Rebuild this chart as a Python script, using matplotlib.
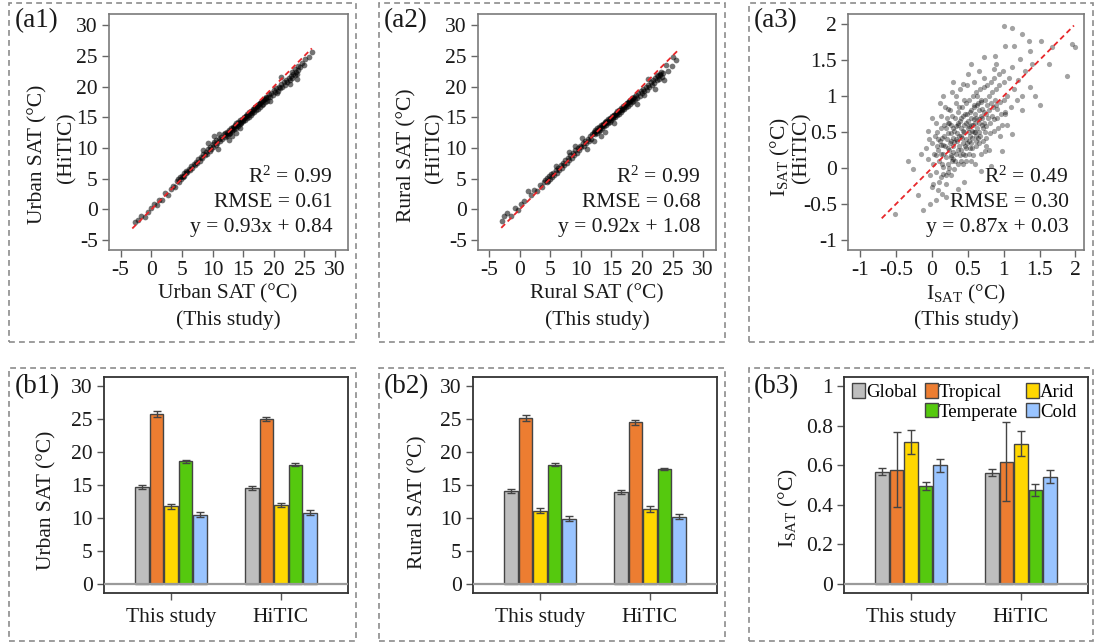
import numpy as np
import matplotlib
matplotlib.use("Agg")
import matplotlib.pyplot as plt
from matplotlib.patches import Rectangle, Patch

plt.rcParams['font.family'] = ['Liberation Serif', 'DejaVu Serif']
plt.rcParams['mathtext.fontset'] = 'custom'
plt.rcParams['mathtext.rm'] = 'Liberation Serif'
plt.rcParams['mathtext.it'] = 'Liberation Serif:italic'
plt.rcParams['mathtext.bf'] = 'Liberation Serif:bold'
plt.rcParams['axes.unicode_minus'] = False

# ---------------- data ----------------
# (a1) urban SAT: this study vs HiTIC
urban_pairs = [
    (-2.6, -2.0), (-2.1, -1.7), (-1.6, -1.0), (-1.1, -1.3), (-0.6, -0.4), (0.0, 0.2), (0.4, 0.9),
    (0.9, 0.7), (1.3, 1.6), (1.8, 1.5), (2.3, 2.6), (2.7, 2.4), (3.2, 3.3), (3.6, 3.8), (3.9, 3.6),
    (4.2, 4.6), (4.4, 4.9), (4.5, 4.4), (4.7, 5.3), (4.8, 5.0), (5.0, 5.5), (5.1, 5.2), (5.3, 5.9),
    (5.4, 5.5), (5.6, 6.0), (5.7, 6.3), (5.9, 6.1), (6.1, 6.6), (6.3, 6.4), (6.5, 7.0), (6.7, 6.8),
    (6.9, 7.4), (7.1, 7.2), (7.3, 7.8), (7.5, 7.5), (7.7, 8.2), (7.9, 7.9), (8.1, 8.6),
    (8.3, 8.4), (8.5, 9.0), (8.7, 8.8), (8.9, 9.4), (9.1, 9.1), (9.3, 9.8), (9.5, 9.5), (9.6, 10.2),
    (9.8, 9.9), (10.0, 10.6), (10.1, 10.2), (10.3, 10.9), (10.5, 10.5), (10.6, 11.3), (10.8, 10.8),
    (11.0, 11.5), (11.2, 11.1), (11.4, 11.8), (11.6, 11.4), (11.8, 12.2), (12.0, 11.8),
    (9.2, 10.8), (10.3, 11.9), (11.0, 12.3), (12.6, 11.3), (13.2, 12.0), (13.9, 12.5), (14.4, 13.2),
    (8.4, 9.6), (10.9, 9.9),
    (12.1, 12.4), (12.3, 12.0), (12.4, 12.6), (12.6, 12.3), (12.7, 12.9), (12.9, 12.5), (13.0, 13.2),
    (13.2, 12.8), (13.3, 13.4), (13.5, 13.1), (13.6, 13.7), (13.8, 13.3), (13.9, 14.0), (14.1, 13.6),
    (14.2, 14.2), (14.4, 13.9), (14.5, 14.5), (14.7, 14.1), (14.8, 14.7), (15.0, 14.4), (15.1, 15.0),
    (15.3, 14.6), (15.4, 15.2), (15.6, 14.9), (15.7, 15.5), (15.9, 15.1), (16.0, 15.8), (16.2, 15.4),
    (16.3, 16.0), (16.5, 15.7), (16.6, 16.3), (16.8, 15.9), (16.9, 16.6), (17.1, 16.2), (17.2, 16.8),
    (17.4, 16.4), (17.5, 17.1), (17.7, 16.7), (17.8, 17.3), (18.0, 17.0), (18.1, 17.6), (18.3, 17.2),
    (18.4, 17.9), (18.6, 17.5), (18.7, 18.1), (18.9, 17.7), (19.0, 18.3),
    (12.2, 12.1), (12.5, 12.4), (12.8, 12.7), (13.1, 13.0), (13.4, 13.2), (13.7, 13.5), (14.0, 13.8),
    (14.3, 14.1), (14.6, 14.3), (14.9, 14.6), (15.2, 14.9), (15.5, 15.2), (15.8, 15.4), (16.1, 15.7),
    (16.4, 16.0), (16.7, 16.3), (17.0, 16.6), (17.3, 16.9), (17.6, 17.2), (17.9, 17.5), (18.2, 17.8),
    (18.5, 18.0), (18.8, 18.3),
    (19.2, 18.8), (19.4, 18.3), (19.6, 19.0), (19.8, 18.6), (20.0, 19.5), (20.2, 19.1), (20.4, 19.8),
    (20.6, 19.3), (20.8, 20.0), (21.0, 19.7), (21.2, 20.4), (21.4, 19.9), (21.6, 20.7), (21.8, 20.3),
    (22.0, 21.0), (22.2, 20.7), (22.4, 21.4), (22.6, 21.0), (22.8, 21.7), (23.0, 21.4), (23.2, 22.1),
    (23.4, 21.8), (23.6, 22.4), (23.8, 22.1), (24.0, 22.7), (24.2, 23.2), (23.5, 22.9), (22.9, 22.3),
    (23.9, 23.4),
    (19.4, 17.6), (20.5, 18.9), (21.2, 21.5), (22.6, 20.4), (23.8, 21.3), (24.6, 23.9), (25.1, 24.4),
    (25.8, 24.8), (26.3, 25.6), (24.9, 23.5),
]

# (a2) rural SAT: this study vs HiTIC
rural_pairs = [
    (-2.9, -1.8), (-2.5, -1.1), (-2.0, -0.6), (-1.4, -1.0), (-0.8, 0.3), (-0.3, -0.1), (0.2, 0.9),
    (0.8, 1.4), (1.3, 3.0), (1.8, 2.4), (2.4, 3.1), (2.9, 3.0), (3.3, 3.9), (3.7, 3.6), (4.0, 4.5),
    (4.2, 4.8), (4.4, 4.4), (4.5, 5.1), (4.7, 4.7), (4.8, 5.4), (5.0, 5.0), (5.1, 5.7), (5.3, 5.3),
    (5.5, 6.0), (5.7, 5.6), (5.9, 6.4), (6.1, 6.0), (6.3, 6.8), (6.5, 6.4), (6.7, 7.2), (6.9, 6.8),
    (7.1, 7.6), (7.3, 7.2), (7.5, 8.0), (7.7, 7.6), (7.9, 8.4), (8.1, 8.1),
    (8.3, 8.8), (8.5, 8.4), (8.7, 9.2), (8.9, 8.8), (9.1, 9.6), (9.3, 9.2), (9.5, 10.0), (9.7, 9.6),
    (9.9, 10.4), (10.1, 10.1), (10.3, 10.8), (10.5, 10.4), (10.7, 11.1), (10.9, 10.8), (11.1, 11.5),
    (11.3, 11.1), (11.5, 11.9), (11.7, 11.5), (11.9, 12.3),
    (9.0, 10.4), (10.2, 11.6), (11.0, 9.9), (12.2, 11.2), (13.3, 11.9), (14.0, 12.6), (8.0, 9.3),
    (6.0, 7.1), (15.4, 14.0),
    (12.1, 12.6), (12.3, 12.2), (12.4, 13.0), (12.6, 12.5), (12.7, 13.2), (12.9, 12.8), (13.0, 13.4),
    (13.2, 13.0), (13.3, 13.7), (13.5, 13.3), (13.6, 13.9), (13.8, 13.5), (13.9, 14.2), (14.1, 13.8),
    (14.2, 14.4), (14.4, 14.0), (14.5, 14.7), (14.7, 14.3), (14.8, 14.9), (15.0, 14.6), (15.1, 15.2),
    (15.3, 14.8), (15.4, 15.4), (15.6, 15.1), (15.7, 15.7), (15.9, 15.3), (16.0, 16.0), (16.2, 15.6),
    (16.3, 16.2), (16.5, 15.9), (16.6, 16.5), (16.8, 16.1), (16.9, 16.8), (17.1, 16.4), (17.2, 17.0),
    (17.4, 16.7), (17.5, 17.3), (17.7, 16.9), (17.8, 17.6), (18.0, 17.2), (18.1, 17.8), (18.3, 17.5),
    (18.4, 18.1), (18.6, 17.7), (18.7, 18.3), (18.9, 17.9),
    (12.2, 12.4), (12.5, 12.7), (12.8, 13.0), (13.1, 13.2), (13.4, 13.5), (13.7, 13.7), (14.0, 14.0),
    (14.3, 14.3), (14.6, 14.5), (14.9, 14.8), (15.2, 15.1), (15.5, 15.3), (15.8, 15.6), (16.1, 15.9),
    (16.4, 16.1), (16.7, 16.4), (17.0, 16.7), (17.3, 17.0), (17.6, 17.3), (17.9, 17.5), (18.2, 17.8),
    (18.5, 18.1),
    (19.0, 18.6), (19.2, 18.1), (19.4, 18.9), (19.6, 18.5), (19.8, 19.3), (20.0, 18.9), (20.2, 19.6),
    (20.4, 19.2), (20.6, 20.0), (20.8, 19.5), (21.0, 20.3), (21.2, 19.9), (21.4, 20.7), (21.6, 20.3),
    (21.8, 21.0), (22.0, 20.6), (22.2, 21.4), (22.4, 21.0), (22.6, 21.7), (22.8, 21.3), (23.0, 22.0),
    (23.2, 21.6), (23.4, 22.2), (22.5, 21.9), (22.9, 21.8), (23.1, 22.4),
    (19.2, 17.2), (20.4, 18.6), (21.0, 21.3), (22.1, 19.6), (23.6, 21.0), (24.3, 22.6), (24.9, 23.3),
    (25.1, 24.8), (25.6, 24.3), (24.0, 23.5),
]

# (a3) urban-rural SAT difference: this study vs HiTIC
isat_pairs = [
    (-0.08, 0.28), (-0.05, 0.12), (-0.02, -0.10), (0.00, 0.35), (0.02, 0.05), (-0.04, 0.40), (0.01, -0.22),
    (0.05, 0.18), (0.06, -0.05), (0.04, 0.45), (0.07, 0.30), (0.08, -0.30), (0.06, 0.62),
    (0.10, 0.10), (0.11, 0.38), (0.12, -0.12), (0.09, 0.25), (0.13, 0.55), (0.10, -0.20), (0.12, 0.72),
    (0.15, 0.20), (0.16, 0.02), (0.14, 0.42), (0.17, 0.60), (0.16, -0.08), (0.15, 0.32), (0.18, 0.85),
    (0.20, 0.15), (0.21, 0.40), (0.22, -0.05), (0.19, 0.55), (0.23, 0.28), (0.21, 0.70), (0.20, -0.22), (0.22, 0.05),
    (0.25, 0.35), (0.26, 0.18), (0.24, 0.62), (0.27, 0.48), (0.26, -0.10), (0.25, 0.80), (0.28, 0.10), (0.24, 0.25),
    (0.30, 0.30), (0.31, 0.52), (0.29, 0.12), (0.32, 0.70), (0.31, -0.02), (0.30, 0.42), (0.33, 0.90), (0.29, 0.22),
    (0.35, 0.38), (0.36, 0.60), (0.34, 0.20), (0.37, 0.78), (0.36, 0.05), (0.35, 0.48), (0.38, 0.30), (0.34, 1.00),
    (0.40, 0.45), (0.41, 0.25), (0.39, 0.65), (0.42, 0.85), (0.41, 0.10), (0.40, 0.55), (0.43, 0.35), (0.39, 1.10),
    (0.45, 0.50), (0.46, 0.30), (0.44, 0.72), (0.47, 0.90), (0.46, 0.18), (0.45, 0.60), (0.48, 0.40), (0.44, 0.05),
    (0.50, 0.55), (0.51, 0.38), (0.49, 0.75), (0.52, 0.95), (0.51, 0.20), (0.50, 0.65), (0.53, 0.45), (0.49, 1.15),
    (0.55, 0.60), (0.56, 0.42), (0.54, 0.80), (0.57, 1.00), (0.56, 0.28), (0.55, 0.70), (0.58, 0.50), (0.54, 0.10),
    (0.60, 0.62), (0.61, 0.45), (0.59, 0.85), (0.62, 1.05), (0.61, 0.30), (0.60, 0.75), (0.63, 0.55), (0.59, 1.20),
    (0.65, 0.68), (0.66, 0.50), (0.64, 0.90), (0.67, 1.10), (0.66, 0.35), (0.65, 0.80), (0.68, 0.20),
    (0.70, 0.70), (0.71, 0.55), (0.69, 0.92), (0.72, 1.12), (0.71, 0.38), (0.70, 0.82), (0.73, 1.25),
    (0.75, 0.75), (0.76, 0.58), (0.74, 0.95), (0.77, 1.15), (0.76, 0.42), (0.75, 0.30),
    (0.80, 0.80), (0.81, 0.62), (0.79, 1.00), (0.82, 1.20), (0.81, 0.48),
    (0.85, 0.85), (0.86, 0.68), (0.84, 1.05), (0.87, 1.25), (0.86, 0.52),
    (0.90, 0.88), (0.91, 0.70), (0.89, 1.10), (0.92, 0.55), (0.93, 1.30),
    (0.95, 0.92), (0.96, 0.75), (0.94, 1.15), (0.97, 0.60),
    (1.00, 0.95), (1.01, 1.20), (1.02, 0.78), (0.99, 1.35),
    (1.05, 1.00), (1.08, 1.25), (1.10, 0.85), (1.12, 1.40), (1.15, 1.10), (1.18, 0.95), (1.20, 1.22),
    (0.18, 0.30), (0.22, 0.48), (0.27, 0.15), (0.31, 0.36), (0.33, 0.58), (0.36, 0.25), (0.38, 0.45),
    (0.41, 0.70), (0.43, 0.20), (0.44, 0.52), (0.47, 0.62), (0.48, 0.28), (0.52, 0.50), (0.53, 0.78),
    (0.55, 0.35), (0.57, 0.60), (0.58, 0.88), (0.60, 0.50), (0.62, 0.70), (0.64, 0.42), (0.66, 0.62),
    (0.68, 0.95), (0.70, 0.60), (0.72, 0.78), (0.74, 0.50), (0.77, 0.88), (0.12, 0.20), (0.14, 0.05),
    (0.17, 0.45), (0.19, -0.10), (0.23, 0.62), (0.26, 0.38), (0.28, 0.72), (0.32, 0.10), (0.34, 0.40),
    (0.37, 0.62), (0.39, 0.18), (0.42, 0.42), (0.46, 0.75), (0.49, 0.35), (0.51, 0.58), (0.53, 0.28),
    (0.56, 0.52), (0.59, 0.68), (0.61, 0.38), (0.63, 0.88), (0.67, 0.45), (0.69, 0.72), (0.73, 0.62),
    (0.78, 0.70), (0.82, 0.90), (0.84, 0.72), (0.88, 0.95), (0.91, 0.82), (0.08, 0.40), (0.03, 0.20),
    (0.13, 0.32), (0.24, 0.00), (0.29, 0.55), (0.47, 0.10), (0.57, 0.18), (0.63, 1.00), (0.45, 0.95),
    (0.38, 0.85), (0.27, 0.60),
    (0.00, 0.70), (-0.15, 0.20), (0.05, -0.45), (0.20, -0.40), (0.45, -0.20), (0.60, 0.05), (0.80, 0.25),
    (0.95, 0.45), (1.05, 0.60), (0.90, 1.45), (0.65, 1.35), (0.50, 1.30), (0.30, 1.20), (0.15, 1.00),
    (1.30, 1.35), (1.25, 0.80), (1.40, 1.45),
    (1.01, 1.97), (1.12, 1.94), (1.25, 1.86), (1.52, 1.77), (1.67, 1.68), (1.95, 1.73), (2.00, 1.68),
    (1.63, 1.44), (1.88, 1.28), (1.51, 0.87), (1.02, 1.70), (1.14, 1.70), (1.35, 1.77), (1.37, 1.63),
    (1.23, 1.51), (0.88, 1.56), (0.72, 1.54), (0.55, 1.44), (0.86, 1.38), (1.44, 1.00), (1.25, 1.00),
    (1.37, 1.12), (-0.52, -0.64), (-0.12, -0.59), (-0.03, -0.50), (-0.19, -0.38), (-0.33, 0.10),
    (-0.26, -0.01), (-0.05, 0.52), (0.07, 0.50), (0.23, 0.82), (0.11, 0.90), (0.28, 1.05), (0.44, 1.17),
    (0.37, -0.29), (0.14, -0.36), (0.00, -0.27), (0.69, -0.04), (0.83, 0.03), (0.74, 0.24), (0.97, 0.24),
    (1.11, 0.47), (1.02, 0.75),
]

# (b) mean values and standard errors per climate zone
zones = ['Global', 'Tropical', 'Arid', 'Temperate', 'Cold']
zone_colors = ['#BEBEBE', '#ED7D31', '#FFD700', '#55C90E', '#99C4FF']
groups = ['This study', 'HiTIC']

urban_this = [14.7, 25.8, 11.8, 18.6, 10.5]
urban_this_err = [0.3, 0.4, 0.4, 0.2, 0.4]
urban_hitic = [14.6, 25.1, 12.0, 18.1, 10.8]
urban_hitic_err = [0.3, 0.3, 0.35, 0.2, 0.4]

rural_this = [14.1, 25.2, 11.1, 18.1, 9.9]
rural_this_err = [0.3, 0.5, 0.4, 0.2, 0.4]
rural_hitic = [14.0, 24.5, 11.4, 17.5, 10.2]
rural_hitic_err = [0.3, 0.45, 0.4, 0.15, 0.4]

isat_this = [0.567, 0.577, 0.718, 0.495, 0.600]
isat_this_err = [0.018, 0.19, 0.06, 0.02, 0.032]
isat_hitic = [0.563, 0.617, 0.707, 0.474, 0.542]
isat_hitic_err = [0.02, 0.20, 0.063, 0.032, 0.032]

# ---------------- figure ----------------
W, H = 1095, 644
fig = plt.figure(figsize=(W / 100, H / 100), dpi=100)

FS = 15.5
DARK = '#1a1a1a'


def px_axes(l, t, r, b):
    return fig.add_axes([l / W, 1 - b / H, (r - l) / W, (b - t) / H])


def ftext(x, y, s, **kw):
    fig.text(x / W, 1 - y / H, s, **kw)


# dashed panel frames
for (l, t, r, b) in [(9, 3, 356, 342), (379, 3, 725, 342), (749, 3, 1093, 342),
                     (9, 368, 356, 641), (379, 368, 725, 641), (749, 368, 1093, 641)]:
    fig.patches.append(Rectangle((l / W, 1 - b / H), (r - l) / W, (b - t) / H,
                                 transform=fig.transFigure, fill=False,
                                 edgecolor='#8c8c8c', linewidth=1.2,
                                 linestyle=(0, (3.5, 2.5))))


def scatter_panel(rect, pairs, xlim, ylim, ticks, ticklabels, line_span, stats, size, alpha):
    ax = px_axes(*rect)
    xs, ys = np.array(pairs).T
    ax.scatter(xs, ys, s=size, c='black', alpha=alpha, linewidths=0, zorder=2)
    ax.plot(line_span, line_span, color='#E8262A', lw=1.3, ls=(0, (3, 2)), zorder=3)
    ax.set_xlim(xlim)
    ax.set_ylim(ylim)
    ax.set_xticks(ticks)
    ax.set_xticklabels(ticklabels)
    ax.set_yticks(ticks)
    ax.set_yticklabels(ticklabels)
    for sp in ax.spines.values():
        sp.set_color('#7a7a7a')
        sp.set_linewidth(1.2)
    ax.tick_params(direction='out', length=5, width=1, color='#666666',
                   labelsize=FS, labelcolor=DARK, pad=3)
    for i, s in enumerate(stats):
        ax.text(0.935, 0.31 - 0.107 * i, s, transform=ax.transAxes, ha='right',
                va='center', fontsize=FS, color=DARK)
    return ax


sat_ticks = [-5, 0, 5, 10, 15, 20, 25, 30]
sat_labels = ['-5', '0', '5', '10', '15', '20', '25', '30']

ax1 = scatter_panel((109, 14, 348, 250), urban_pairs, (-6.9, 32.1), (-6.6, 31.8),
                    sat_ticks, sat_labels, [-3.1, 26.2],
                    ['R$^2$ = 0.99', 'RMSE = 0.61', 'y = 0.93x + 0.84'], 17, 0.55)

ax2 = scatter_panel((478, 14, 716, 250), rural_pairs, (-6.8, 32.1), (-6.6, 31.8),
                    sat_ticks, sat_labels, [-3.0, 26.0],
                    ['R$^2$ = 0.99', 'RMSE = 0.68', 'y = 0.92x + 1.08'], 17, 0.55)

ax3 = scatter_panel((848, 14, 1084, 250), isat_pairs, (-1.17, 2.12), (-1.14, 2.14),
                    [-1, -0.5, 0, 0.5, 1, 1.5, 2],
                    ['-1', '-0.5', '0', '0.5', '1', '1.5', '2'], [-0.70, 1.98],
                    ['R$^2$ = 0.49', 'RMSE = 0.30', 'y = 0.87x + 0.03'], 14, 0.36)

# axis titles for scatter panels
ftext(38, 154, 'Urban SAT (°C)', rotation=90, ha='center', va='center', fontsize=FS, color=DARK)
ftext(67, 148, '(HiTIC)', rotation=90, ha='center', va='center', fontsize=FS, color=DARK)
ftext(228, 294, 'Urban SAT (°C)', ha='center', va='center', fontsize=FS, color=DARK)
ftext(228, 320, '(This study)', ha='center', va='center', fontsize=FS, color=DARK)

ftext(407, 155, 'Rural SAT (°C)', rotation=90, ha='center', va='center', fontsize=FS, color=DARK)
ftext(435, 148, '(HiTIC)', rotation=90, ha='center', va='center', fontsize=FS, color=DARK)
ftext(597, 294, 'Rural SAT (°C)', ha='center', va='center', fontsize=FS, color=DARK)
ftext(597, 320, '(This study)', ha='center', va='center', fontsize=FS, color=DARK)

ftext(780, 157, 'I$_{\\mathrm{SAT}}$ (°C)', rotation=90, ha='center', va='center', fontsize=FS, color=DARK)
ftext(802, 148, '(HiTIC)', rotation=90, ha='center', va='center', fontsize=FS, color=DARK)
ftext(966, 294, 'I$_{\\mathrm{SAT}}$ (°C)', ha='center', va='center', fontsize=FS, color=DARK)
ftext(966, 320, '(This study)', ha='center', va='center', fontsize=FS, color=DARK)


def bar_panel(rect, this_vals, this_err, hitic_vals, hitic_err, ylim, yticks, yticklabels):
    ax = px_axes(*rect)
    centers = np.arange(len(groups))
    step = 0.132
    for i, zone in enumerate(zones):
        ax.bar(centers + (i - 2) * step, [this_vals[i], hitic_vals[i]], width=0.126,
               color=zone_colors[i], edgecolor='#444444', linewidth=1.0,
               yerr=[this_err[i], hitic_err[i]],
               error_kw=dict(ecolor='#444444', elinewidth=1.0, capsize=3, capthick=1.0),
               label=zone, zorder=2)
    ax.axhline(0, color='#9a9a9a', lw=1.6, zorder=3)
    ax.set_xlim(-0.61, 1.61)
    ax.set_ylim(ylim)
    ax.set_xticks(centers)
    ax.set_xticklabels(groups)
    ax.set_yticks(yticks)
    ax.set_yticklabels(yticklabels)
    for sp in ax.spines.values():
        sp.set_color('#333333')
        sp.set_linewidth(1.3)
    ax.tick_params(direction='out', length=5, width=1, color='#555555',
                   labelsize=FS, labelcolor=DARK, pad=3)
    ax.tick_params(axis='x', pad=6)
    return ax


sat_bar_ticks = [0, 5, 10, 15, 20, 25, 30]
sat_bar_labels = ['0', '5', '10', '15', '20', '25', '30']

b1 = bar_panel((104, 377, 348, 593), urban_this, urban_this_err, urban_hitic, urban_hitic_err,
               (-1.36, 31.4), sat_bar_ticks, sat_bar_labels)
b2 = bar_panel((473, 377, 717, 593), rural_this, rural_this_err, rural_hitic, rural_hitic_err,
               (-1.36, 31.4), sat_bar_ticks, sat_bar_labels)
b3 = bar_panel((844, 377, 1088, 593), isat_this, isat_this_err, isat_hitic, isat_hitic_err,
               (-0.045, 1.045), [0, 0.2, 0.4, 0.6, 0.8, 1.0], ['0', '0.2', '0.4', '0.6', '0.8', '1'])

ftext(47, 500, 'Urban SAT (°C)', rotation=90, ha='center', va='center', fontsize=FS, color=DARK)
ftext(418, 502, 'Rural SAT (°C)', rotation=90, ha='center', va='center', fontsize=FS, color=DARK)
ftext(788, 508, 'I$_{\\mathrm{SAT}}$ (°C)', rotation=90, ha='center', va='center', fontsize=FS, color=DARK)

# legend (column-major fill, empty slot below "Global")
bar_handles = [Patch(facecolor=c, edgecolor='#444444', linewidth=1.0) for c in zone_colors]
blank = Patch(facecolor='none', edgecolor='none')
b3.legend([bar_handles[0], blank, bar_handles[1], bar_handles[3], bar_handles[2], bar_handles[4]],
          ['Global', '', 'Tropical', 'Temperate', 'Arid', 'Cold'],
          ncol=3, loc='upper left', bbox_to_anchor=(0.032, 0.97), frameon=False,
          fontsize=13.5, handlelength=0.7, handleheight=0.8, handletextpad=0.06,
          columnspacing=0.4, labelspacing=0.1, borderpad=0, borderaxespad=0)

# panel tags
for x, y, tag in [(15, 21, '(a1)'), (384, 21, '(a2)'), (754, 21, '(a3)'),
                  (15, 387, '(b1)'), (384, 387, '(b2)'), (754, 387, '(b3)')]:
    ftext(x, y, tag, ha='left', va='center', fontsize=19.5, color=DARK)

fig.savefig('out.png', dpi=100)
